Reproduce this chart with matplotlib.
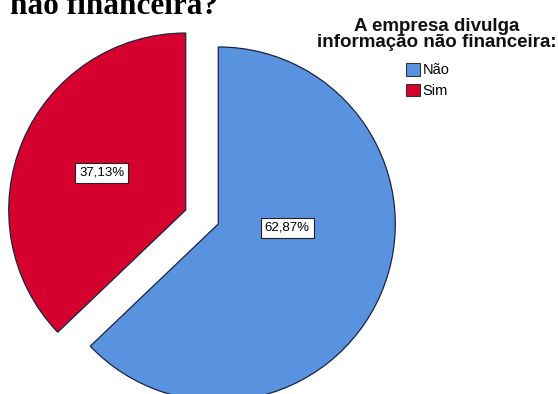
import matplotlib
matplotlib.use("Agg")
import matplotlib.pyplot as plt
from matplotlib.patches import Patch
import numpy as np

# Data
categories = ["Não", "Sim"]
percentages = [62.87, 37.13]
colors = ["#5993E0", "#D5002E"]
legend_title = "A empresa divulga\ninformação não financeira:"
title_text = "não financeira?"

W, H, DPI = 558, 394, 100
R_PX = 177.0           # pie radius in pixels
CX, CY = 202.0, 217.0  # pie centre in pixels (from top-left)

fig = plt.figure(figsize=(W / DPI, H / DPI), dpi=DPI)
fig.patch.set_facecolor("white")
ax = fig.add_axes([0, 0, 1, 1])

wedges, _ = ax.pie(
    percentages,
    colors=colors,
    startangle=90,
    counterclock=False,
    explode=[0.1, 0.1],
    radius=1.0,
    center=(0, 0),
    wedgeprops=dict(edgecolor="#1c2340", linewidth=0.9),
    frame=True,
)
ax.set_xlim(-CX / R_PX, (W - CX) / R_PX)
ax.set_ylim(-(H - CY) / R_PX, CY / R_PX)
ax.set_aspect("equal")
ax.axis("off")

# Percentage labels (radial distance, angle in degrees) relative to each wedge centre
label_layout = [(0.39, -3.0), (0.52, 156.0)]
for w, pct, (dist, ang) in zip(wedges, percentages, label_layout):
    cx, cy = w.center
    x = cx + dist * np.cos(np.radians(ang))
    y = cy + dist * np.sin(np.radians(ang))
    ax.text(x, y, f"{pct:.2f}%".replace(".", ","), ha="center", va="center",
            fontsize=9.5, family="Liberation Sans", color="black",
            bbox=dict(boxstyle="square,pad=0.3", facecolor="white",
                      edgecolor="#222222", linewidth=0.8))

# Title (partially outside the canvas)
fig.text(10 / W, 1 - 14 / H, title_text, ha="left", va="baseline",
         fontsize=22.5, fontweight="bold", family="Liberation Serif", color="black")

# Legend
fig.text(437 / W, 1 - 18 / H, legend_title, ha="center", va="top",
         multialignment="center", fontsize=13.5, fontweight="bold",
         family="Liberation Sans", color="#111111", linespacing=0.95)
handles = [Patch(facecolor=c, edgecolor="#333333", linewidth=0.8) for c in colors]
fig.legend(handles, categories, loc="upper left", bbox_to_anchor=(406 / W, 1 - 63 / H),
           frameon=False, handlelength=0.95, handleheight=0.95,
           handletextpad=0.2, labelspacing=0.45, borderpad=0, borderaxespad=0,
           prop=dict(family="Liberation Sans", size=10.5))

fig.savefig("out.png", dpi=DPI)
